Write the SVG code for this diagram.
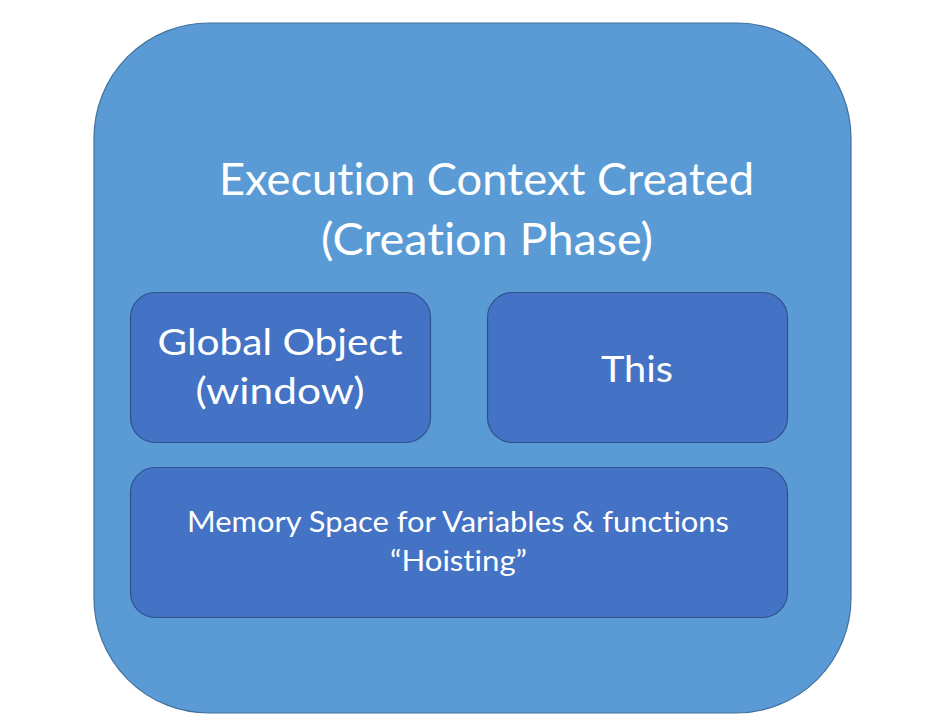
<svg xmlns="http://www.w3.org/2000/svg" width="941" height="725" viewBox="0 0 941 725">
  <style>
    .outer { fill: #5B9BD5; stroke: #41719C; stroke-width: 1.2; }
    .inner { fill: #4472C4; stroke: #2F528F; stroke-width: 1.2; }
    text { font-family: Lato, "Open Sans", "Liberation Sans", sans-serif; fill: #FFFFFF; text-anchor: middle; font-variant-ligatures: none; }
    .t1 { font-size: 45px; }
    .t2 { font-size: 37px; }
    .t3 { font-size: 28px; }
  </style>
  <rect width="941" height="725" fill="#FFFFFF"/>
  <g id="execution-context">
    <rect class="outer" x="94" y="23" width="757" height="690" rx="115" ry="115"/>
    <text class="t1" x="486.5" y="195" textLength="535" lengthAdjust="spacingAndGlyphs">Execution Context Created</text>
    <text class="t1" x="487" y="255" textLength="332" lengthAdjust="spacingAndGlyphs">(Creation Phase)</text>
  </g>
  <g id="global-object">
    <rect class="inner" x="130.5" y="292.5" width="300" height="150" rx="25" ry="25"/>
    <text class="t2" x="280" y="355" textLength="245" lengthAdjust="spacingAndGlyphs">Global Object</text>
    <text class="t2" x="280" y="404" textLength="169" lengthAdjust="spacingAndGlyphs">(window)</text>
  </g>
  <g id="this">
    <rect class="inner" x="487.5" y="292.5" width="300" height="150" rx="25" ry="25"/>
    <text class="t2" x="637" y="382" textLength="72" lengthAdjust="spacingAndGlyphs">This</text>
  </g>
  <g id="memory-space">
    <rect class="inner" x="130.5" y="467.5" width="657" height="150" rx="25" ry="25"/>
    <text class="t3" x="458" y="532" textLength="542" lengthAdjust="spacingAndGlyphs">Memory Space for Variables &amp; functions</text>
    <text class="t3" x="458.5" y="571" textLength="137" lengthAdjust="spacingAndGlyphs">“Hoisting”</text>
  </g>
  <g id="connectors"></g>
</svg>
